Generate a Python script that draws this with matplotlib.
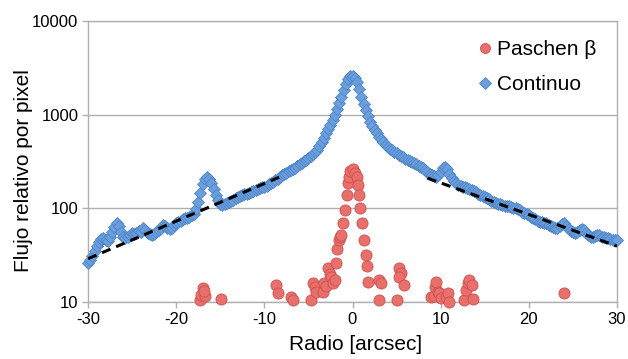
import matplotlib
matplotlib.use("Agg")
import matplotlib.pyplot as plt
import numpy as np
from matplotlib.ticker import FixedLocator, FixedFormatter, NullLocator

plt.rcParams['font.family'] = ['Liberation Sans', 'DejaVu Sans']
plt.rcParams['axes.unicode_minus'] = False

# Continuum (blue diamonds), sampled every 0.25 arcsec from -30 to 30
cont_x = np.linspace(-30, 30, 241)
cont_y = [
    # -30 .. -20.25
    26, 28, 31, 35, 40, 44, 47, 48, 46, 45, 49, 56, 63, 69, 64, 56, 50, 48, 49, 52,
    54, 53, 55, 57, 56, 62, 58, 54, 53, 52, 53, 56, 59, 62, 66, 65, 62, 60, 62, 66,
    # -20 .. -10.25
    70, 72, 74, 76, 78, 79, 81, 84, 88, 98, 118, 145, 180, 205, 215, 205, 185, 160, 140, 122,
    112, 108, 110, 113, 117, 120, 124, 128, 132, 135, 138, 141, 144, 147, 150, 154, 158, 161, 164, 167,
    # -10 .. -0.25
    170, 175, 180, 186, 192, 200, 208, 218, 226, 232, 240, 248, 256, 262, 270, 282, 295, 306, 318, 330,
    345, 362, 380, 400, 420, 460, 510, 565, 630, 700, 780, 880, 986, 1140, 1320, 1560, 1830, 2100, 2400, 2580,
    # 0 .. 9.75
    2600, 2480, 2250, 1900, 1540, 1300, 1110, 960, 840, 760, 690, 630, 580, 545, 510, 480, 455, 435, 415, 398,
    385, 372, 360, 350, 340, 330, 320, 312, 303, 294, 285, 276, 267, 256, 245, 235, 226, 220, 217, 225,
    # 10 .. 19.75
    245, 268, 278, 262, 235, 212, 195, 185, 178, 174, 170, 167, 164, 160, 157, 153, 148, 144, 140, 136,
    133, 129, 125, 121, 118, 115, 112, 110, 108, 107, 106, 105, 104, 102, 100, 98, 95, 92, 89, 86,
    # 20 .. 30
    84, 81, 78, 76, 74, 72, 71, 70, 69, 67, 65, 63, 61, 62, 65, 68, 69, 65, 60, 57,
    56, 55, 56, 58, 60, 59, 55, 52, 50, 50, 51, 52, 52, 50, 49, 48, 48, 47, 46, 46,
    46,
]

# Paschen beta (red circles)
pas_x = [-17.35, -17.15, -16.97, -16.7, -16.85, -14.97,
         -8.65, -8.47, -6.95, -6.77,
         -4.7, -4.5, -4.3, -4.1, -3.4, -3.2, -3.0, -2.8, -2.6, -2.4, -2.2, -2.0,
         -1.9, -1.8, -1.55, -1.4, -1.3, -1.1, -0.9, -0.65, -0.5, -0.4, -0.26, 0.04,
         0.3, 0.5, 0.6, 0.7, 0.9, 1.06, 1.36, 1.5, 1.66, 1.8,
         2.95, 3.06, 3.25,
         5.1, 5.33, 5.5, 5.3, 5.8,
         8.9, 9.3, 9.4, 9.5, 9.67, 9.86, 10.05, 10.6, 10.8, 11.0,
         12.7, 12.9, 13.1, 13.27, 13.57, 13.7,
         24.04]
pas_y = [10.5, 11.9, 14, 11.6, 13, 10.7,
         15.2, 12.4, 11.4, 10.5,
         10.5, 15.8, 14.5, 12.9, 12.9, 15.8, 15, 23, 20, 18.6, 15.8, 17,
         26, 37, 46, 50, 52, 69, 96, 139, 185, 217, 250, 262,
         240, 217, 178, 139, 100, 69, 46, 32, 24, 16.3,
         10.5, 17.1, 15.8,
         10.5, 23, 20.5, 18.6, 15.2,
         11.4, 11.6, 14.5, 16.5, 12.9, 12.5, 10.9, 11.4, 12.4, 10,
         10.5, 13.4, 16, 17.2, 15.2, 10.7,
         12.6]

# Exponential fits (dashed)
fit_left_x = [-30, -8.3]
fit_left_y = [29, 215]
fit_right_x = [8.5, 30]
fit_right_y = [210, 39.5]

xticks = [-30, -20, -10, 0, 10, 20, 30]
yticks = [10, 100, 1000, 10000]
ytick_labels = ['10', '100', '1000', '10000']

fig = plt.figure(figsize=(6.28, 3.59), dpi=100)
ax = fig.add_axes([88/628, 1-302/359, (617-88)/628, (302-21)/359])

grey = '#B0B0B0'
ax.set_yscale('log')
ax.set_xlim(-30, 30)
ax.set_ylim(10, 10000)

for t in yticks:
    ax.axhline(t, color=grey, lw=1.0, zorder=0)

ax.plot(pas_x, pas_y, 'o', ls='none', ms=8, mfc='#E8706C', mec='#D0504C', mew=0.6,
        clip_on=False, zorder=3, label='Paschen β')
ax.plot(cont_x, cont_y, 'D', ls='none', ms=6.3, mfc='#6A9EDC', mec='#4E86C8', mew=0.6,
        clip_on=False, zorder=4, label='Continuo')
ax.plot(fit_left_x, fit_left_y, color='black', lw=2.2, ls=(0, (3, 2)), zorder=5)
ax.plot(fit_right_x, fit_right_y, color='black', lw=2.2, ls=(0, (3, 2)), zorder=5)

ax.xaxis.set_major_locator(FixedLocator(xticks))
ax.yaxis.set_major_locator(FixedLocator(yticks))
ax.yaxis.set_major_formatter(FixedFormatter(ytick_labels))
ax.yaxis.set_minor_locator(NullLocator())
ax.tick_params(axis='both', direction='out', length=4, width=1, color=grey,
               labelsize=12, labelcolor='black', pad=3)

for s in ax.spines.values():
    s.set_color(grey)
    s.set_linewidth(1.0)

fig.text(356/628, 1-345/359, 'Radio [arcsec]', fontsize=15, ha='center', va='center')
fig.text(24/628, 1-171/359, 'Flujo relativo por pixel', fontsize=15, ha='center',
         va='center', rotation=90)

leg = ax.legend(loc='upper right', bbox_to_anchor=(0.989, 0.985), frameon=False,
                fontsize=15, handletextpad=0.1, labelspacing=0.8, handlelength=1.0,
                markerscale=0.9, borderaxespad=0.3)

fig.savefig('out.png', dpi=100)
